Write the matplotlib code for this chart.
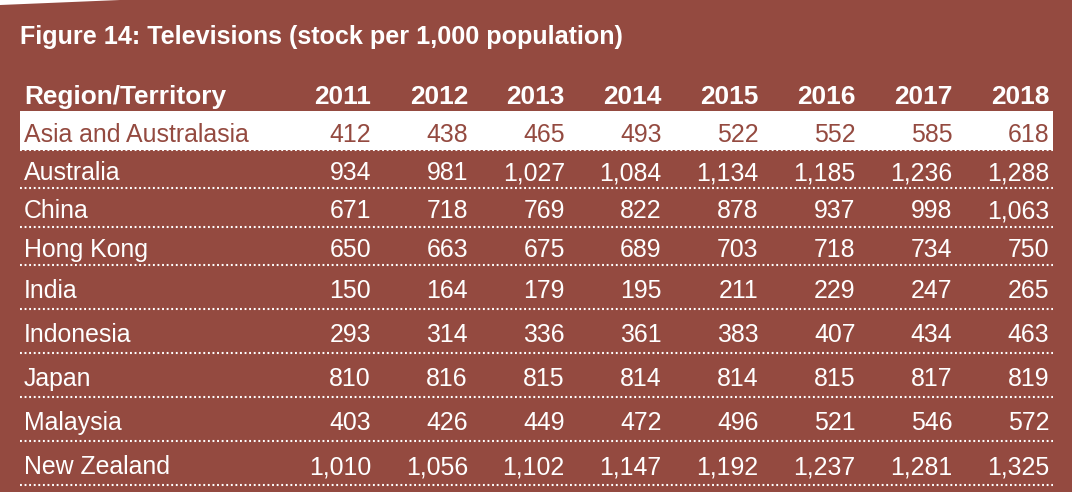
import numpy as np
import matplotlib
matplotlib.use('Agg')
import matplotlib.pyplot as plt
from matplotlib.patches import Rectangle, Polygon

title = 'Figure 14: Televisions (stock per 1,000 population)'
header = 'Region/Territory'
years = ['2011', '2012', '2013', '2014', '2015', '2016', '2017', '2018']
regions = ['Asia and Australasia', 'Australia', 'China', 'Hong Kong', 'India',
           'Indonesia', 'Japan', 'Malaysia', 'New Zealand']
asia_australasia = [412, 438, 465, 493, 522, 552, 585, 618]
australia = [934, 981, 1027, 1084, 1134, 1185, 1236, 1288]
china = [671, 718, 769, 822, 878, 937, 998, 1063]
hong_kong = [650, 663, 675, 689, 703, 718, 734, 750]
india = [150, 164, 179, 195, 211, 229, 247, 265]
indonesia = [293, 314, 336, 361, 383, 407, 434, 463]
japan = [810, 816, 815, 814, 814, 815, 817, 819]
malaysia = [403, 426, 449, 472, 496, 521, 546, 572]
new_zealand = [1010, 1056, 1102, 1147, 1192, 1237, 1281, 1325]
values = [asia_australasia, australia, china, hong_kong, india,
          indonesia, japan, malaysia, new_zealand]

bg = '#944a40'
font = ['Liberation Sans', 'DejaVu Sans']

W, H = 1072, 492
fig = plt.figure(figsize=(W / 100, H / 100), dpi=100, facecolor=bg)
ax = fig.add_axes([0, 0, 1, 1])
ax.set_xlim(0, W)
ax.set_ylim(H, 0)
ax.set_axis_off()

# white sliver in the corner
ax.add_patch(Polygon([(0, 0), (120, 0), (0, 5)], closed=True,
                     facecolor='white', edgecolor='none'))

# layout (pixels)
left, right = 20, 1053
row_edges = [111, 150, 188, 227, 265, 309, 353, 397, 441, 485]
col_right0, col_step = 371, 96.9

ax.text(20, 37, title, color='white', fontsize=18.1, fontweight='bold',
        family=font, va='center', ha='left')

ax.text(24, 97, header, color='white', fontsize=18.9, fontweight='bold',
        family=font, va='center', ha='left')
for j, yr in enumerate(years):
    ax.text(col_right0 + j * col_step, 97, yr, color='white', fontsize=18.9,
            fontweight='bold', family=font, va='center', ha='right')

for i, (name, row) in enumerate(zip(regions, values)):
    top, bot = row_edges[i], row_edges[i + 1]
    yc = (top + bot) / 2 + 4
    if i == 0:
        ax.add_patch(Rectangle((left, top), right - left, bot - top,
                               facecolor='white', edgecolor='none'))
        c = bg
    else:
        c = 'white'
    ax.text(24, yc, name, color=c, fontsize=17.9, family=font,
            va='center', ha='left')
    for j, v in enumerate(row):
        ax.text(col_right0 + j * col_step, yc, f'{v:,}', color=c, fontsize=17.9,
                family=font, va='center', ha='right')
    ax.hlines(bot, left, right, colors='white', linewidth=1.5,
              linestyles=(0, (0.9, 1.3)))

fig.savefig('out.png', dpi=100, facecolor=bg)
